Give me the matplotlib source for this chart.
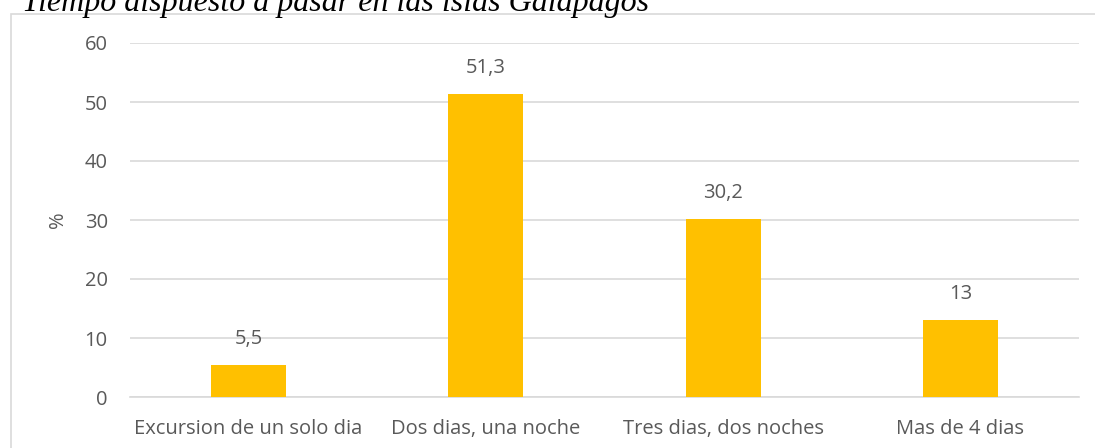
import matplotlib
matplotlib.use("Agg")
import matplotlib.pyplot as plt
from matplotlib.patches import Rectangle

categories = ["Excursion de un solo dia", "Dos dias, una noche", "Tres dias, dos noches", "Mas de 4 dias"]
values = [5.5, 51.3, 30.2, 13]
value_labels = ["5,5", "51,3", "30,2", "13"]
yticks = [0, 10, 20, 30, 40, 50, 60]
title = "Tiempo dispuesto a pasar en las islas Galápagos"

W, H = 1095, 448
fig = plt.figure(figsize=(W/100, H/100), dpi=100)
fig.patch.set_facecolor("white")

# chart border (partially cropped)
fig.patches.append(Rectangle((10.5/W, -0.1), 1.2, 1.1 - 14.5/H, transform=fig.transFigure,
                             fill=False, edgecolor="#D9D9D9", linewidth=1.2))

ax = fig.add_axes([130/W, 1-397/H, (1079-130)/W, (397-43)/H])
txtc = "#595959"
font = "Open Sans"
fs = 14.5

x = range(len(categories))
ax.bar(x, values, width=0.316, color="#FFC000", zorder=3)
ax.set_xlim(-0.5, len(categories)-0.5)
ax.set_ylim(0, 60)
ax.set_yticks(yticks)
ax.set_yticklabels([str(t) for t in yticks], fontsize=fs, color=txtc, family=font)
ax.set_xticks(list(x))
ax.set_xticklabels(categories, fontsize=fs, color=txtc, family=font)
ax.tick_params(axis="y", length=0, pad=16)
ax.tick_params(axis="x", length=0, pad=16)
ax.grid(axis="y", color="#D9D9D9", linewidth=1.2, zorder=0)
for s in ["top", "right", "left"]:
    ax.spines[s].set_visible(False)
ax.spines["bottom"].set_color("#D9D9D9")
ax.spines["bottom"].set_linewidth(1.2)
ax.set_ylabel("%", fontsize=fs, color=txtc, family=font, labelpad=12)

for xi, v, lab in zip(x, values, value_labels):
    ax.annotate(lab, (xi, v), xytext=(0, 15), textcoords="offset points",
                ha="center", va="baseline", fontsize=fs, color=txtc, family=font)

fig.text(22/W, 1-10.5/H, title, fontsize=23, style="italic", family="Liberation Serif",
         color="black", ha="left", va="baseline")

fig.savefig("out.png", dpi=100)
